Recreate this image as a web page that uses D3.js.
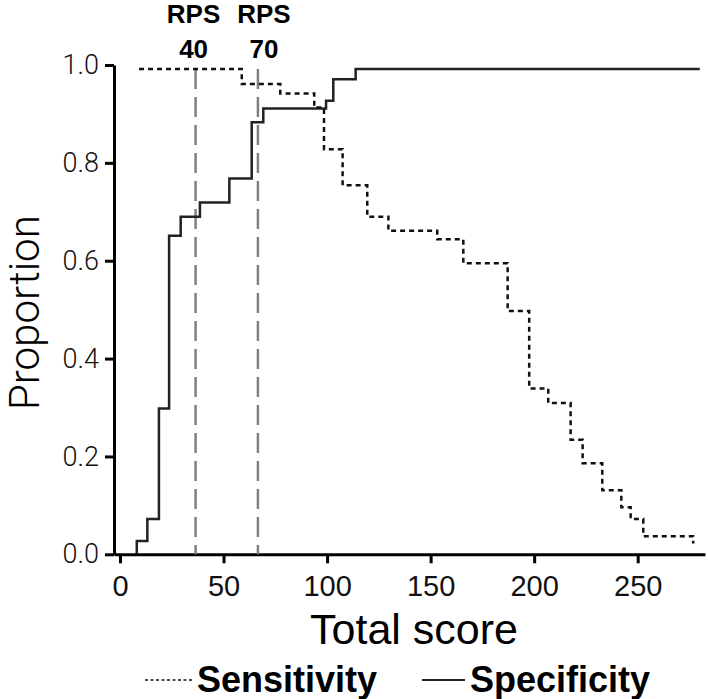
<html>
<head>
<script src="https://d3js.org/d3.v7.min.js"></script>
<style>
  body { margin: 0; background: #fff; }
  svg { display: block; }
  .ytick text { font-family: Roboto, "Liberation Sans", sans-serif; font-weight: 300; font-size: 27px; fill: #111; }
  .xtick text { font-family: "Liberation Sans Narrow", sans-serif; font-size: 29px; fill: #111; }
  .axis path, .axis line { stroke: #000; stroke-width: 3px; }
</style>
</head>
<body>
<svg width="708" height="699"></svg>
<script>
// total score where the curves step, and the proportion after each step
var specScore = [8.1, 8.1, 13.2, 18.8, 23.7, 29.3, 38.6, 52.8, 63.6, 69.2, 99.5, 103.0, 113.8, 280.0];
var specValue = [0, 0.027, 0.072, 0.298, 0.651, 0.690, 0.719, 0.768, 0.883, 0.911, 0.927, 0.971, 0.992, 0.992];

var sensScore = [9.2, 58.8, 77.4, 93.8, 98.5, 107.5, 119.4, 129.6, 153.2, 165.8, 187.2, 197.6, 206.8, 217.6, 223.4, 232.9, 242.1, 246.6, 252.7, 276.8];
var sensValue = [0.992, 0.961, 0.942, 0.913, 0.828, 0.754, 0.690, 0.661, 0.644, 0.595, 0.497, 0.339, 0.309, 0.234, 0.186, 0.131, 0.096, 0.072, 0.037, 0.022];

// RPS cut-off lines
var cutScore = [36.5, 66.6];
var cutLabel = ["40", "70"];

var xTicks = [0, 50, 100, 150, 200, 250];
var yTicks = [0, 0.2, 0.4, 0.6, 0.8, 1.0];

var svg = d3.select("svg");

var x = d3.scaleLinear().domain([-2.9, 282.5]).range([114, 705]);
var y = d3.scaleLinear().domain([0, 1]).range([554.3, 65]);

// axes
svg.append("g")
  .attr("class", "axis xtick")
  .attr("transform", "translate(0," + y(0) + ")")
  .call(d3.axisBottom(x).tickValues(xTicks).tickSize(9).tickSizeOuter(0).tickPadding(12).tickFormat(d3.format("d")));

svg.append("g")
  .attr("class", "axis ytick")
  .attr("transform", "translate(" + x(-2.9) + ",0)")
  .call(d3.axisLeft(y).tickValues(yTicks).tickSize(9).tickSizeOuter(0).tickPadding(6).tickFormat(d3.format(".1f")));

// cut-off lines
svg.selectAll(".cut").data(cutScore).enter().append("line")
  .attr("class", "cut")
  .attr("x1", function(d) { return x(d); })
  .attr("x2", function(d) { return x(d); })
  .attr("y1", y(0.992))
  .attr("y2", y(0))
  .attr("stroke", "#808080")
  .attr("stroke-width", 2.5)
  .attr("stroke-dasharray", "20,8");

// labels sit a little apart from the lines
var shift = [-2, 6];

svg.selectAll(".rps").data(cutScore).enter().append("text")
  .attr("x", function(d, i) { return x(d) + shift[i]; })
  .attr("y", 23)
  .attr("text-anchor", "middle")
  .style("font-family", "'Liberation Sans', sans-serif")
  .style("font-weight", "bold")
  .style("font-size", "26px")
  .text("RPS");

svg.selectAll(".rpsn").data(cutScore).enter().append("text")
  .attr("x", function(d, i) { return x(d) + shift[i]; })
  .attr("y", 58)
  .attr("text-anchor", "middle")
  .style("font-family", "'Liberation Sans', sans-serif")
  .style("font-weight", "bold")
  .style("font-size", "26px")
  .text(function(d, i) { return cutLabel[i]; });

// step curves
var line = d3.line()
  .x(function(d) { return x(d[0]); })
  .y(function(d) { return y(d[1]); })
  .curve(d3.curveStepAfter);

svg.append("path")
  .datum(d3.zip(specScore, specValue))
  .attr("d", line)
  .attr("fill", "none")
  .attr("stroke", "#222")
  .attr("stroke-width", 2.5);

svg.append("path")
  .datum(d3.zip(sensScore, sensValue))
  .attr("d", line)
  .attr("fill", "none")
  .attr("stroke", "#111")
  .attr("stroke-width", 2.5)
  .attr("stroke-dasharray", "5,4");

// axis titles
svg.append("text")
  .attr("transform", "translate(39," + (y(0.5) + 3) + ") rotate(-90)")
  .attr("text-anchor", "middle")
  .style("font-family", "Roboto, 'Liberation Sans', sans-serif")
  .style("font-weight", 300)
  .style("font-size", "42px")
  .text("Proportion");

svg.append("text")
  .attr("x", 414)
  .attr("y", 644)
  .attr("text-anchor", "middle")
  .style("font-family", "'Liberation Sans Narrow', sans-serif")
  .style("font-size", "43px")
  .text("Total score");

// legend
svg.append("line")
  .attr("x1", 145).attr("x2", 192).attr("y1", 680).attr("y2", 680)
  .attr("stroke", "#111").attr("stroke-width", 1.5).attr("stroke-dasharray", "3,2.5");

svg.append("text")
  .attr("x", 197).attr("y", 692)
  .style("font-family", "'Liberation Sans', sans-serif")
  .style("font-weight", "bold")
  .style("font-size", "36px")
  .text("Sensitivity");

svg.append("line")
  .attr("x1", 422).attr("x2", 465).attr("y1", 680).attr("y2", 680)
  .attr("stroke", "#222").attr("stroke-width", 2);

svg.append("text")
  .attr("x", 470).attr("y", 692)
  .style("font-family", "'Liberation Sans', sans-serif")
  .style("font-weight", "bold")
  .style("font-size", "36px")
  .text("Specificity");
</script>
</body>
</html>
